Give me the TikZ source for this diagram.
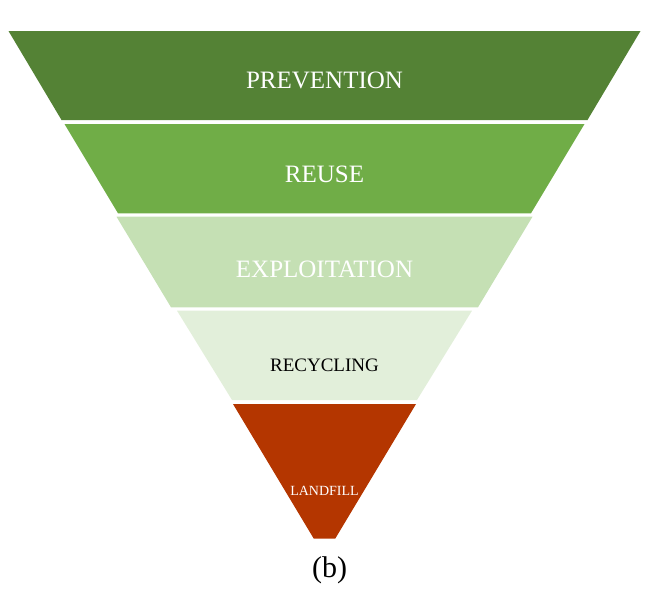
\documentclass[tikz,border=0pt]{standalone}
\usepackage{fontspec}
\setmainfont{Liberation Serif}
\begin{document}
\begin{tikzpicture}[x=1pt, y=-1pt,
  lbl/.style={anchor=base, inner sep=0pt, font=\fontsize{25}{30}\selectfont}]
\useasboundingbox (0,0) rectangle (661,600);
\definecolor{col}{HTML}{548235}
\fill[col] (8.5, 31) -- (640.5, 31) -- (587.5, 120) -- (61.5, 120) -- cycle (324.5, 88) node[lbl, text = white] (prevention) {PREVENTION};
\definecolor{col}{HTML}{70AD47}
\fill[col] (64.5, 124) -- (584.5, 124) -- (531, 213.3) -- (118, 213.3) -- cycle (324.5, 182) node[lbl, text = white] (reuse) {REUSE};
\definecolor{col}{HTML}{C5E0B4}
\fill[col] (116.5, 216.7) -- (532.5, 216.7) -- (478, 307.3) -- (171, 307.3) -- cycle (324.5, 277) node[lbl, text = white] (exploitation) {EXPLOITATION};
\definecolor{col}{HTML}{E2EFDA}
\fill[col] (177, 310.7) -- (472, 310.7) -- (417, 400) -- (232, 400) -- cycle (324.5, 371) node[lbl, text = black, font = \fontsize{19}{23}\selectfont] (recycling) {RECYCLING};
\definecolor{col}{HTML}{B43600}
\fill[col] (233, 404) -- (416, 404) -- (335.3, 538.5) -- (313.7, 538.5) -- cycle (324.5, 495.8) node[lbl, text = white, font = \fontsize{14}{17}\selectfont] (landfill) {LANDFILL};
\node[lbl, font = \fontsize{30}{36}\selectfont] (caption) at (329.5, 577.5) {(b)};
\end{tikzpicture}
\end{document}
